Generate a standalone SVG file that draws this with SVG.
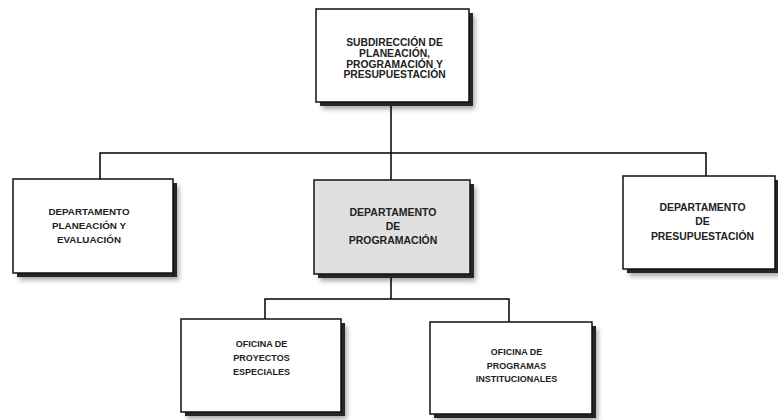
<svg xmlns="http://www.w3.org/2000/svg" width="778" height="420" viewBox="0 0 778 420">
<style>
.box{fill:#fff;stroke:#111;stroke-width:1.5}
.grey{fill:#e0e0e0}
.sh{fill:#262626}
.soft{fill:#000;opacity:0.35;filter:url(#blur)}
.t{font-family:"Liberation Sans",Arial,sans-serif;font-weight:bold;font-size:9px;fill:#222;text-anchor:middle}
.c{stroke:#000;stroke-width:1.5;fill:none}
</style>
<defs>
<filter id="blur" x="-20%" y="-20%" width="140%" height="140%"><feGaussianBlur stdDeviation="2.5"/></filter>
</defs>
<rect width="778" height="420" fill="#fff"/>
<g id="connectors">
<path class="c" d="M391,106V153M100,179V153H706V176M391,153V180"/>
<path class="c" d="M391,278V299M265,319V299H509V322"/>
</g>
<g id="n-sub">
<rect class="soft" x="322" y="16" width="153" height="93"/>
<rect class="sh" x="320" y="13" width="153" height="93"/>
<rect class="box" x="316" y="9" width="153" height="93"/>
<text class="t" style="font-size:10.3px" x="394.5" y="46">SUBDIRECCIÓN DE</text>
<text class="t" style="font-size:10.3px" x="394.5" y="56.8">PLANEACIÓN,</text>
<text class="t" style="font-size:10.3px" x="394.5" y="67.6">PROGRAMACIÓN Y</text>
<text class="t" style="font-size:10.3px" x="394.5" y="78.4">PRESUPUESTACIÓN</text>
</g>
<g id="n-plan">
<rect class="soft" x="19" y="186" width="160" height="94"/>
<rect class="sh" x="17" y="183" width="160" height="94"/>
<rect class="box" x="13" y="179" width="160" height="94"/>
<text class="t" style="font-size:9.8px" x="89" y="215">DEPARTAMENTO</text>
<text class="t" style="font-size:9.8px" x="89" y="229.4">PLANEACIÓN Y</text>
<text class="t" style="font-size:9.8px" x="89" y="242.7">EVALUACIÓN</text>
</g>
<g id="n-prog">
<rect class="soft" x="320" y="187" width="156" height="94"/>
<rect class="sh" x="318" y="184" width="156" height="94"/>
<rect class="box grey" x="314" y="180" width="156" height="94"/>
<text class="t" style="font-size:10.5px" x="393" y="215.5">DEPARTAMENTO</text>
<text class="t" style="font-size:10.5px" x="393" y="229.8">DE</text>
<text class="t" style="font-size:10.5px" x="393" y="243.8">PROGRAMACIÓN</text>
</g>
<g id="n-pres">
<rect class="soft" x="629" y="183" width="152" height="93"/>
<rect class="sh" x="627" y="180" width="152" height="93"/>
<rect class="box" x="623" y="176" width="152" height="93"/>
<text class="t" style="font-size:10.4px" x="702.5" y="210.5">DEPARTAMENTO</text>
<text class="t" style="font-size:10.4px" x="702.5" y="224.8">DE</text>
<text class="t" style="font-size:10.4px" x="702.5" y="239.8">PRESUPUESTACIÓN</text>
</g>
<g id="n-proy">
<rect class="soft" x="187" y="326" width="160" height="93"/>
<rect class="sh" x="185" y="323" width="160" height="93"/>
<rect class="box" x="181" y="319" width="160" height="93"/>
<text class="t" x="261.5" y="347">OFICINA DE</text>
<text class="t" x="261.5" y="361">PROYECTOS</text>
<text class="t" x="261.5" y="375">ESPECIALES</text>
</g>
<g id="n-inst">
<rect class="soft" x="436" y="329" width="162" height="92"/>
<rect class="sh" x="434" y="326" width="162" height="92"/>
<rect class="box" x="430" y="322" width="162" height="92"/>
<text class="t" x="516.5" y="355">OFICINA DE</text>
<text class="t" x="516.5" y="368.5">PROGRAMAS</text>
<text class="t" x="516.5" y="382">INSTITUCIONALES</text>
</g>
</svg>
